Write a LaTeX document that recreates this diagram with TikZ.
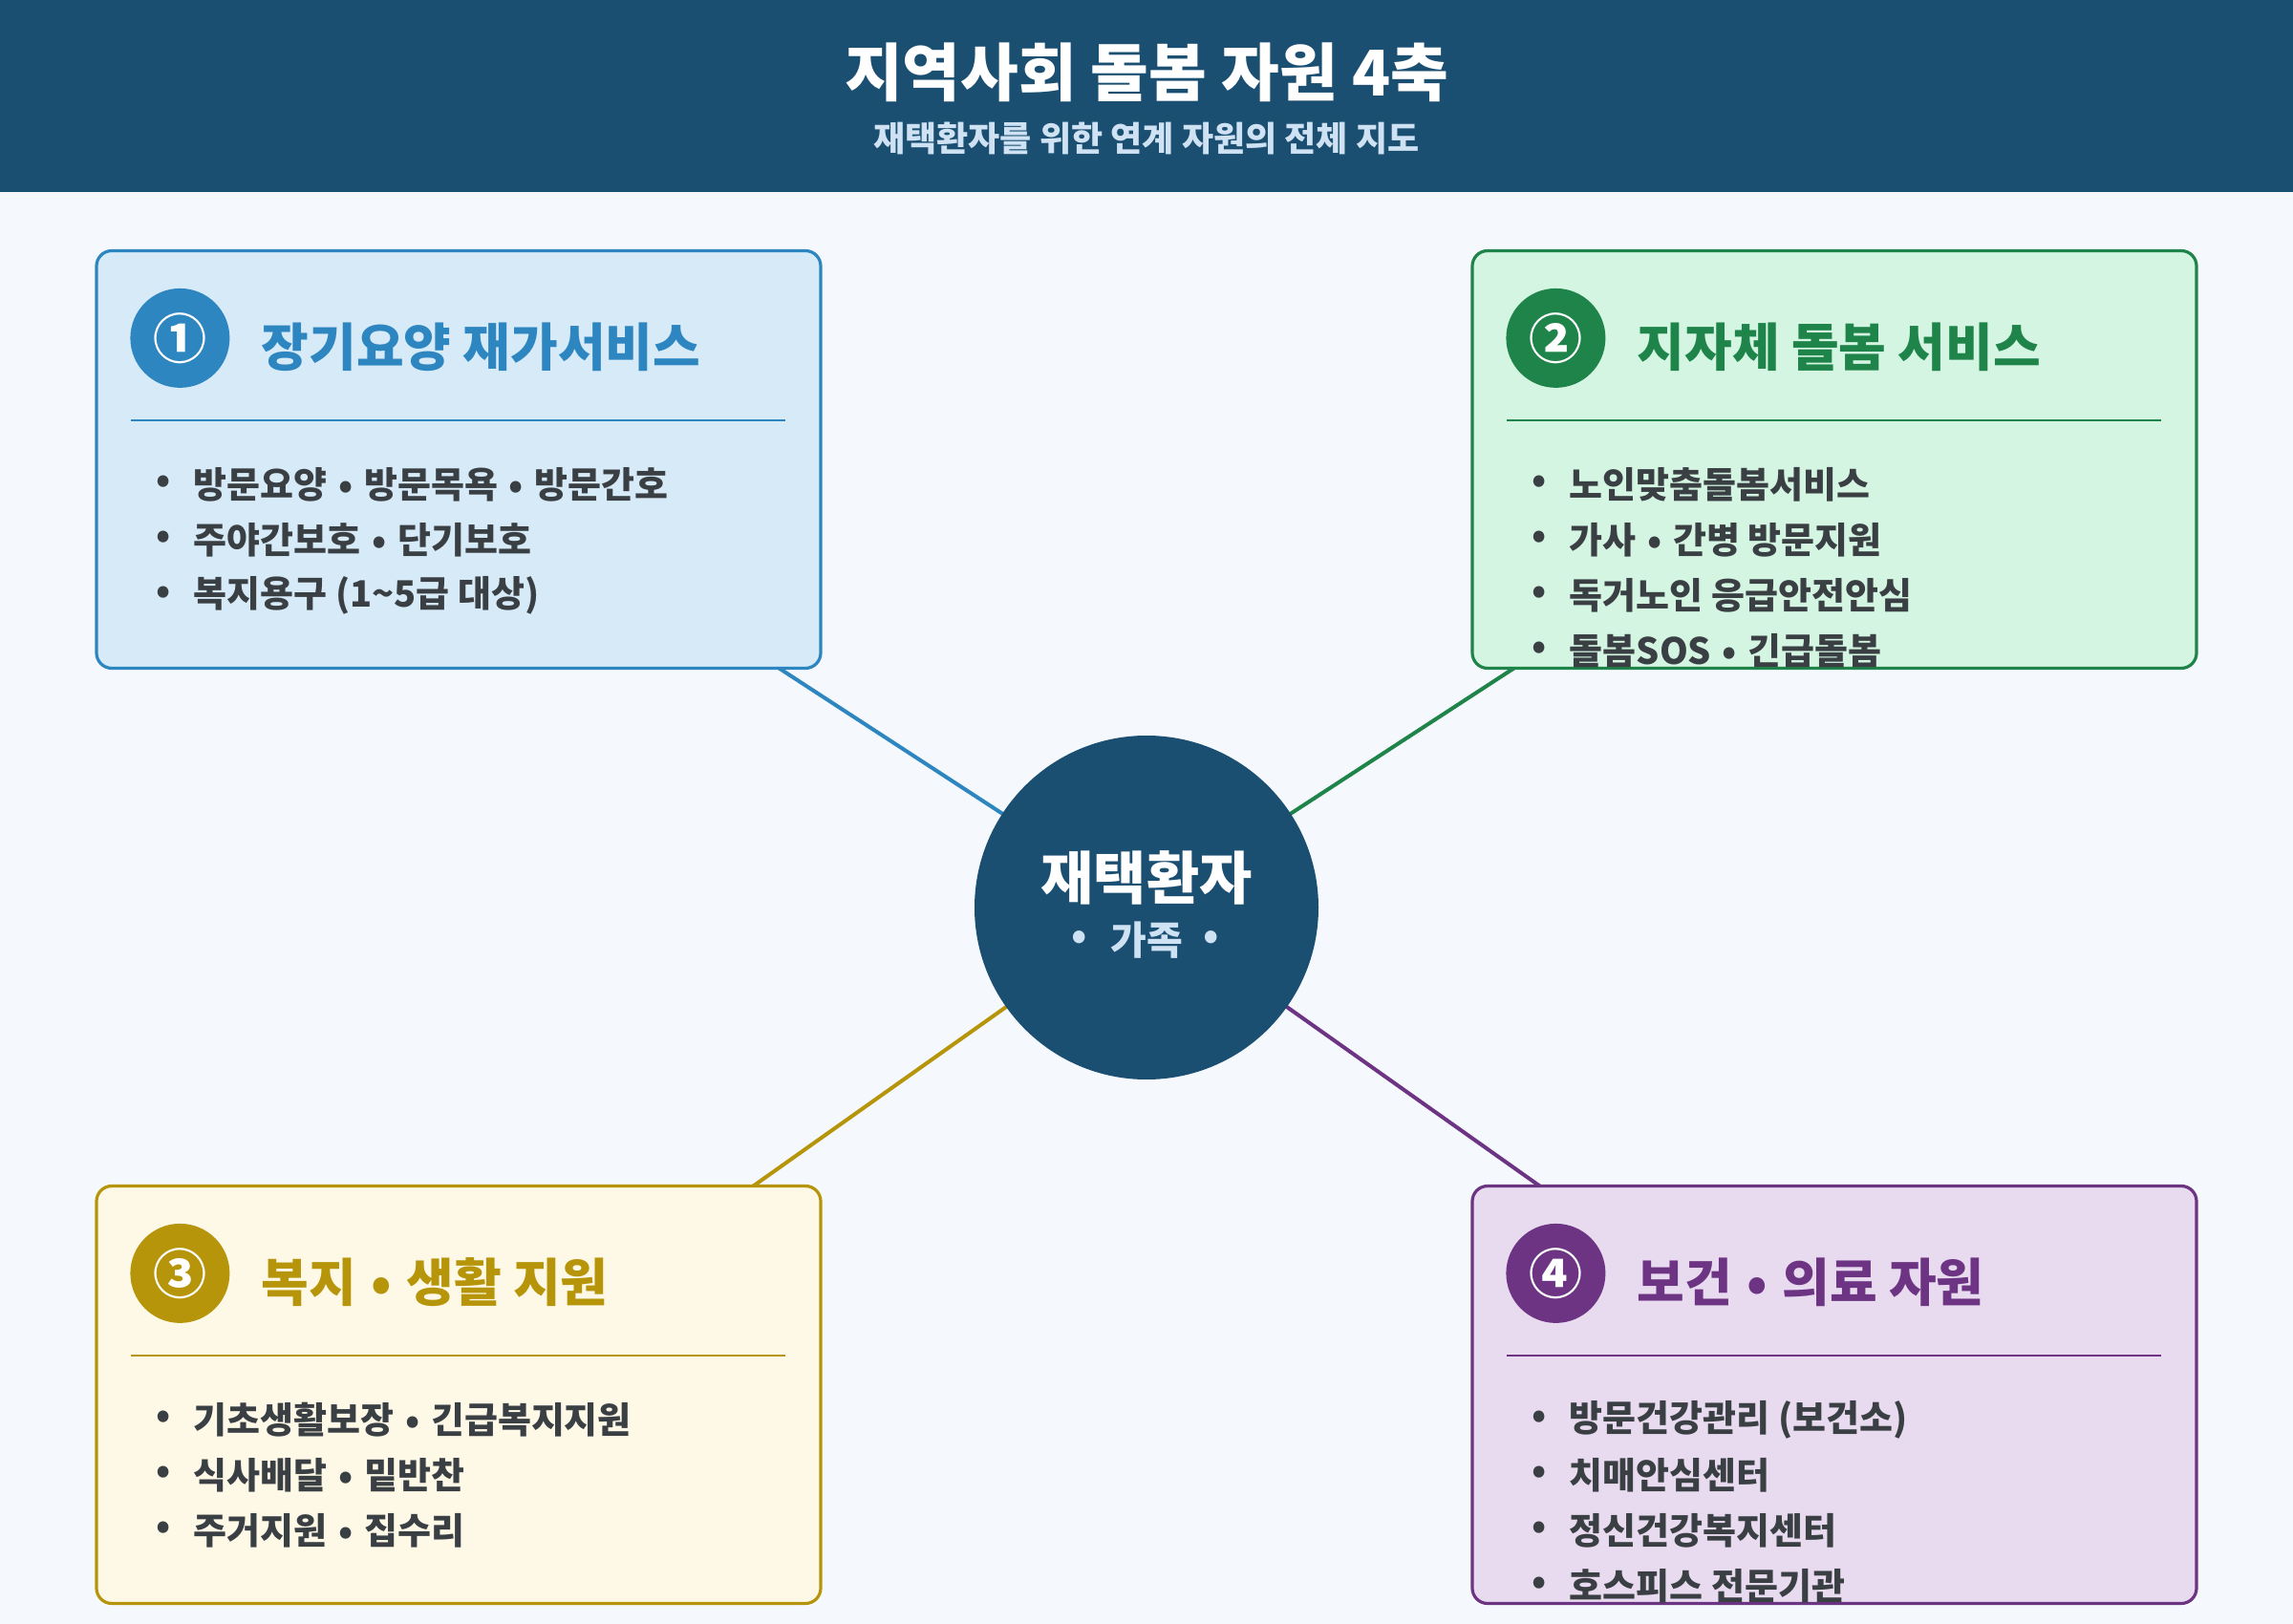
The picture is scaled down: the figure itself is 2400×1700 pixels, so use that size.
\documentclass[tikz,border=0pt]{standalone}
\usepackage{fontspec}
\setmainfont{Noto Sans CJK KR}
\usetikzlibrary{calc,backgrounds}
\definecolor{bg}{HTML}{F5F9FD}
\definecolor{hdr}{HTML}{1B4F72}
\definecolor{subc}{HTML}{CFE2F3}
\definecolor{txt}{HTML}{3A3F44}
\definecolor{c1}{HTML}{2E86C1}\definecolor{c1fill}{HTML}{D6EAF8}
\definecolor{c2}{HTML}{1E8449}\definecolor{c2fill}{HTML}{D5F5E3}
\definecolor{c3}{HTML}{B7950B}\definecolor{c3fill}{HTML}{FEF9E7}
\definecolor{c4}{HTML}{6C3483}\definecolor{c4fill}{HTML}{E8DAEF}
\newcommand\bul{\hspace{1.5pt}•\hspace{1.5pt}}
\tikzset{
  card/.style={draw=#1, fill=#1fill, line width=1.6pt, rounded corners=8pt,
    minimum width=379pt, minimum height=218.5pt, inner sep=0pt},
  numc/.style={circle, fill=#1, minimum size=52pt, inner sep=0pt, text=white,
    font=\fontsize{28}{30}\selectfont\bfseries},
  cardtitle/.style={anchor=west, inner sep=0pt, text=#1,
    font=\fontsize{27}{30}\selectfont\bfseries},
  divider/.style={draw=#1, line width=1pt},
  conn/.style={draw=#1, line width=2pt},
  dot/.style={inner sep=0pt, text=txt, font=\fontsize{19}{21}\selectfont\bfseries},
  itemtxt/.style={anchor=west, inner sep=0pt, text=txt,
    font=\fontsize{19}{21}\selectfont\bfseries},
  hub/.style={circle, fill=hdr, minimum size=180pt, inner sep=0pt},
}
\newcommand\crditem[3]{%
  \path (#1.north west) ++(72,#2) node[dot] (#1d#2) {•};
  \path (#1.north west) ++(103,#2) node[itemtxt] (#1i#2) {#3};}
\newcommand\crdhead[4]{% box, colour, number, title
  \path (#1.north west) ++(89,93) node[numc=#2] (#1n) {#3};
  \path (#1.north west) ++(174,102) node[cardtitle=#2] (#1t) {#4};
  \draw[divider=#2] ($(#1.north west)+(38,179)$) -- ($(#1.north east)+(-39,179)$);}
\begin{document}
\begin{tikzpicture}[x=0.5pt,y=-0.5pt]
\useasboundingbox (0,0) rectangle (2400,1700);
% nodes
\node[card=c1] (b1) at (480,481) {};
\node[card=c2] (b2) at (1920,481) {};
\node[card=c3] (b3) at (480,1460) {};
\node[card=c4] (b4) at (1920,1460) {};
\node[hub] (hub) at (1200,950) {};
\begin{scope}[on background layer]
  \fill[bg] (0,0) rectangle (2400,1700);
  \draw[conn=c1] (hub.center) -- (b1.center);
  \draw[conn=c2] (hub.center) -- (b2.center);
  \draw[conn=c3] (hub.center) -- (b3.center);
  \draw[conn=c4] (hub.center) -- (b4.center);
\end{scope}
% header
\fill[hdr] (0,0) rectangle (2400,201);
\node[text=white, font=\fontsize{33}{36}\selectfont\bfseries] (title) at (1200,76) {지역사회 돌봄 자원 4축};
\node[text=subc, font=\fontsize{18}{20}\selectfont\bfseries] (subtitle) at (1200,145) {재택환자를 위한 연계 자원의 전체 지도};
% hub text
\node[text=white, font=\fontsize{30}{32}\selectfont\bfseries] (hubt) at (1200,919) {재택환자};
\node[text=subc, font=\fontsize{20.5}{22}\selectfont\bfseries] (hubf) at (1200,984) {가족};
\node[text=subc, font=\fontsize{20.5}{22}\selectfont\bfseries] (hubd1) at (1130,984) {•};
\node[text=subc, font=\fontsize{20.5}{22}\selectfont\bfseries] (hubd2) at (1268,984) {•};
% card 1
\crdhead{b1}{c1}{①}{장기요양 재가서비스}
\crditem{b1}{246}{방문요양 \bul{} 방문목욕 \bul{} 방문간호}
\crditem{b1}{304}{주야간보호 \bul{} 단기보호}
\crditem{b1}{362}{복지용구 (1\textasciitilde 5급 대상)}
% card 2
\crdhead{b2}{c2}{②}{지자체 돌봄 서비스}
\crditem{b2}{246}{노인맞춤돌봄서비스}
\crditem{b2}{304}{가사 \bul{} 간병 방문지원}
\crditem{b2}{362}{독거노인 응급안전안심}
\crditem{b2}{420}{돌봄SOS \bul{} 긴급돌봄}
% card 3
\crdhead{b3}{c3}{③}{복지 \bul{} 생활 지원}
\crditem{b3}{246}{기초생활보장 \bul{} 긴급복지지원}
\crditem{b3}{304}{식사배달 \bul{} 밑반찬}
\crditem{b3}{362}{주거지원 \bul{} 집수리}
% card 4
\crdhead{b4}{c4}{④}{보건 \bul{} 의료 자원}
\crditem{b4}{246}{방문건강관리 (보건소)}
\crditem{b4}{304}{치매안심센터}
\crditem{b4}{362}{정신건강복지센터}
\crditem{b4}{420}{호스피스 전문기관}
\end{tikzpicture}
\end{document}
